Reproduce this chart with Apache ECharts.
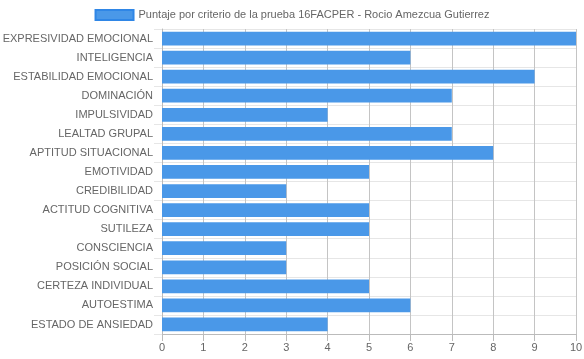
<!DOCTYPE html>
<html><head><meta charset="utf-8">
<script src="https://cdn.jsdelivr.net/npm/echarts@6/dist/echarts.min.js"></script>
<style>html,body{margin:0;padding:0;background:#fff}#c{width:584px;height:359px}</style>
</head><body><div id="c"></div>
<script>
const categories = ["EXPRESIVIDAD EMOCIONAL","INTELIGENCIA","ESTABILIDAD EMOCIONAL","DOMINACIÓN","IMPULSIVIDAD","LEALTAD GRUPAL","APTITUD SITUACIONAL","EMOTIVIDAD","CREDIBILIDAD","ACTITUD COGNITIVA","SUTILEZA","CONSCIENCIA","POSICIÓN SOCIAL","CERTEZA INDIVIDUAL","AUTOESTIMA","ESTADO DE ANSIEDAD"];
const values = [10,6,9,7,4,7,8,5,3,5,5,3,3,5,6,4];
const seriesName = "Puntaje por criterio de la prueba 16FACPER - Rocio Amezcua Gutierrez";
const chart = echarts.init(document.getElementById('c'), null, {renderer:'canvas'});
const font = "Liberation Sans, Arial, sans-serif";
chart.setOption({
  animation:false,
  textStyle:{fontFamily:font},
  legend:{top:4,left:'center',itemWidth:38,itemHeight:10,itemGap:10,icon:'rect',
    textStyle:{fontFamily:font,fontSize:11,color:'#666'},
    itemStyle:{borderColor:'#2f86e6',borderWidth:2}},
  grid:{left:162,right:8,top:29,bottom:25,containLabel:false,outerBoundsMode:'none'},
  xAxis:{type:'value',min:0,max:10,interval:1,
    axisLine:{show:true,lineStyle:{color:'#bbb'}},
    axisTick:{show:true,length:7,lineStyle:{color:'#bbb'}},
    axisLabel:{color:'#666',fontSize:11,fontFamily:font,margin:8},
    splitLine:{show:true,lineStyle:{color:'#c4c4c4'}}},
  yAxis:{type:'category',data:categories,inverse:true,
    axisLine:{show:true,lineStyle:{color:'#bbb'}},
    axisTick:{show:true,length:8,lineStyle:{color:'#e6e6e6'}},
    axisLabel:{color:'#666',fontSize:11,fontFamily:font,margin:9},
    splitLine:{show:true,lineStyle:{color:'#e6e6e6'}}},
  series:[{type:'bar',name:seriesName,data:values,barCategoryGap:'28%',
    itemStyle:{color:'#4a98e8'}}]
});
</script></body></html>
